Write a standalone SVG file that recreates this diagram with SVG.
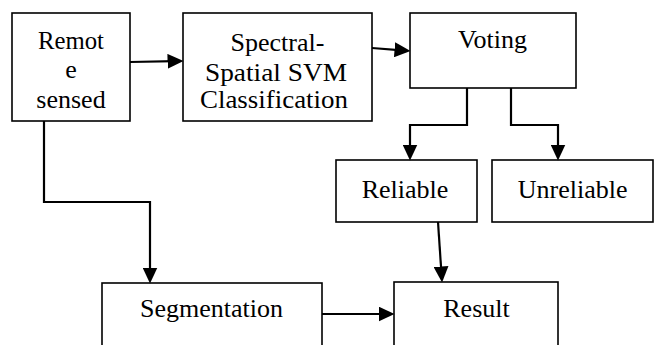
<svg xmlns="http://www.w3.org/2000/svg" width="656" height="345" viewBox="0 0 656 345">
<style>
.box{fill:#fff;stroke:#000;stroke-width:1.6}
.t{font-family:'Liberation Serif','Times New Roman',Tinos,'DejaVu Serif',serif;font-size:26px;fill:#000;text-anchor:middle}
.c{fill:none;stroke:#000;stroke-width:2.2}
</style>
<defs>
<marker id="ah" markerUnits="userSpaceOnUse" markerWidth="16" markerHeight="15" viewBox="0 0 15 14" refX="7" refY="7" orient="auto">
<path d="M0,0 L15,7 L0,14 z" fill="#000"/>
</marker>
</defs>
<rect width="656" height="345" fill="#fff"/>
<g id="remote">
<rect class="box" x="12" y="13" width="118" height="108"/>
<text class="t" x="71" y="48.5" textLength="66" lengthAdjust="spacingAndGlyphs">Remot</text>
<text class="t" x="71" y="78.3">e</text>
<text class="t" x="71" y="107.5">sensed</text>
</g>
<g id="svm">
<rect class="box" x="183" y="13" width="189" height="108"/>
<text class="t" x="277.5" y="51">Spectral-</text>
<text class="t" x="276" y="81" textLength="142" lengthAdjust="spacingAndGlyphs">Spatial SVM</text>
<text class="t" x="274" y="108.3" textLength="148" lengthAdjust="spacingAndGlyphs">Classification</text>
</g>
<g id="voting">
<rect class="box" x="410" y="13" width="166" height="75"/>
<text class="t" x="492.5" y="48.3">Voting</text>
</g>
<g id="reliable">
<rect class="box" x="336" y="160" width="141" height="62"/>
<text class="t" x="405" y="198.3">Reliable</text>
</g>
<g id="unreliable">
<rect class="box" x="492" y="160" width="161" height="62"/>
<text class="t" x="572.7" y="198.3">Unreliable</text>
</g>
<g id="segmentation">
<rect class="box" x="102" y="283" width="220" height="80"/>
<text class="t" x="211.5" y="316.7">Segmentation</text>
</g>
<g id="result">
<rect class="box" x="394" y="282" width="164" height="80"/>
<text class="t" x="476.5" y="316.7">Result</text>
</g>
<g id="connectors">
<path class="c" d="M130,62 L175,61.2" marker-end="url(#ah)"/>
<path class="c" d="M372,48 L402,50.4" marker-end="url(#ah)"/>
<path class="c" d="M467,88 V125 H410 V152" marker-end="url(#ah)"/>
<path class="c" d="M511,88 V125 H558 V152" marker-end="url(#ah)"/>
<path class="c" d="M438,222 L441.5,274" marker-end="url(#ah)"/>
<path class="c" d="M44,121 V202 H150 V275" marker-end="url(#ah)"/>
<path class="c" d="M322,314 H386" marker-end="url(#ah)"/>
</g>
</svg>
